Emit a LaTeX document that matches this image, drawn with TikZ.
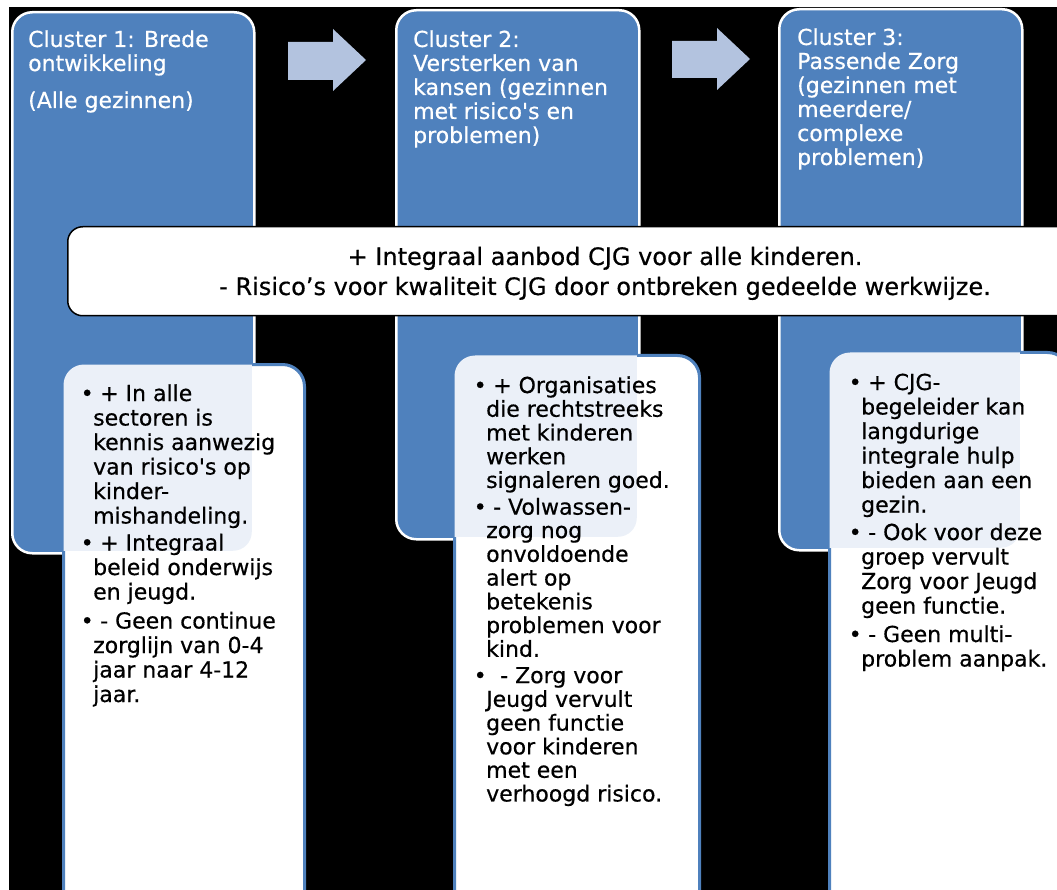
\documentclass[tikz,border=0pt]{standalone}
\usepackage{fontspec}
\setmainfont{DejaVu Sans}[FakeBold=0.5]
\definecolor{colblue}{HTML}{4F81BD}
\definecolor{arrowfill}{HTML}{B3C3DF}
\definecolor{tintblue}{HTML}{EBF0F8}
\newcommand{\bul}{\makebox[12pt][c]{\textbullet}}
\newcommand{\apo}{\textquotesingle}
\tikzset{
 colbox/.style={draw=white, line width=2.5pt, fill=colblue, rounded corners=20pt, anchor=north west, inner sep=0pt},
 infobox/.style={draw=colblue, line width=3pt, fill=white, rounded corners=22pt, anchor=north west, inner sep=0pt},
 midbox/.style={draw=black, line width=1.5pt, fill=white, rounded corners=15pt, anchor=north west, inner sep=0pt},
 hdr/.style={anchor=base west, inner sep=0pt, text=white, font=\fontsize{22}{24}\selectfont},
 body/.style={anchor=base west, inner sep=0pt, text=black},
 blockarrow/.style={fill=arrowfill},
}
\begin{document}
\begin{tikzpicture}[x=1pt,y=-1pt]
\useasboundingbox (0,0) rectangle (1057,890);
\clip (0,0) rectangle (1057,890);
\fill[white] (0,0) rectangle (1057,890);
\fill[black] (9,7) rectangle (1057,890);

% columns
\node[colbox, minimum width=242, minimum height=541] (c1) at (11,11) {};
\node[colbox, minimum width=243, minimum height=529] (c2) at (395,9) {};
\node[colbox, minimum width=243, minimum height=541] (c3) at (778,8) {};

% headers
\node[hdr] (h1) at (28,47) {\begin{tabular}[t]{@{}l@{}}Cluster 1: Brede\\ontwikkeling\\[13pt](Alle gezinnen)\end{tabular}};
\node[hdr] (h2) at (413,47) {\begin{tabular}[t]{@{}l@{}}Cluster 2:\\Versterken van\\kansen (gezinnen\\met risico\apo s en\\problemen)\end{tabular}};
\node[hdr] (h3) at (797,45) {\begin{tabular}[t]{@{}l@{}}Cluster 3:\\Passende Zorg\\(gezinnen met\\meerdere/\\complexe\\problemen)\end{tabular}};

% block arrows
\fill[blockarrow] (288,42) -- (333,42) -- (333,29) -- (366,60) -- (333,91) -- (333,80) -- (288,80) -- cycle;
\fill[blockarrow] (672,41) -- (717,41) -- (717,28) -- (750,59) -- (717,90) -- (717,78) -- (672,78) -- cycle;

% middle box
\node[midbox, minimum width=1078, minimum height=89] (mid) at (67,226) {};
\node[anchor=base, inner sep=0pt, font=\fontsize{24}{30}\selectfont] (midtext) at (605,265) {\begin{tabular}[t]{@{}c@{}}+ Integraal aanbod CJG voor alle kinderen.\\- Risico’s voor kwaliteit CJG door ontbreken gedeelde werkwijze.\end{tabular}};

% bottom boxes
\node[infobox, minimum width=241, minimum height=600] (ba) at (62,363) {};
\node[infobox, minimum width=245, minimum height=600] (bb) at (453,354) {};
\node[infobox, minimum width=240, minimum height=600] (bc) at (828,351) {};

% tint where boxes overlap columns
\begin{scope}
\clip[rounded corners=18.75pt] (12.25,12.25) rectangle (251.75,550.75);
\fill[tintblue, rounded corners=20.5pt] (63.5,364.5) rectangle (301.5,961.5);
\end{scope}
\begin{scope}
\clip[rounded corners=18.75pt] (396.25,10.25) rectangle (636.75,536.75);
\fill[tintblue, rounded corners=20.5pt] (454.5,355.5) rectangle (696.5,952.5);
\end{scope}
\begin{scope}
\clip[rounded corners=18.75pt] (779.25,9.25) rectangle (1019.75,547.75);
\fill[tintblue, rounded corners=20.5pt] (829.5,352.5) rectangle (1066.5,949.5);
\end{scope}

% body texts
\node[body, font=\fontsize{22}{24.5}\selectfont] (ta) at (81,401) {\begin{tabular}[t]{@{}l@{}l@{}}
\bul & \ + In alle\\
 & sectoren is\\
 & kennis aanwezig\\
 & van risico\apo s op\\
 & kinder-\\
 & mishandeling.\\[2.5pt]
\bul & \ + Integraal\\
 & beleid onderwijs\\
 & en jeugd.\\[4.5pt]
\bul & \ - Geen continue\\
 & zorglijn van 0-4\\
 & jaar naar 4-12\\
 & jaar.
\end{tabular}};

\node[body, font=\fontsize{22}{23.4}\selectfont] (tb) at (474,393) {\begin{tabular}[t]{@{}l@{}l@{}}
\bul & \ + Organisaties\\
 & die rechtstreeks\\
 & met kinderen\\
 & werken\\
 & signaleren goed.\\[3pt]
\bul & \ - Volwassen-\\
 & zorg nog\\
 & onvoldoende\\
 & alert op\\
 & betekenis\\
 & problemen voor\\
 & kind.\\[3pt]
\bul & \ \ - Zorg voor\\
 & Jeugd vervult\\
 & geen functie\\
 & voor kinderen\\
 & met een\\
 & verhoogd risico.
\end{tabular}};

\node[body, font=\fontsize{22}{24.5}\selectfont] (tc) at (849,390) {\begin{tabular}[t]{@{}l@{}l@{}}
\bul & \ + CJG-\\
 & begeleider kan\\
 & langdurige\\
 & integrale hulp\\
 & bieden aan een\\
 & gezin.\\[3pt]
\bul & \ - Ook voor deze\\
 & groep vervult\\
 & Zorg voor Jeugd\\
 & geen functie.\\[4pt]
\bul & \ - Geen multi-\\
 & problem aanpak.
\end{tabular}};
\end{tikzpicture}
\end{document}
